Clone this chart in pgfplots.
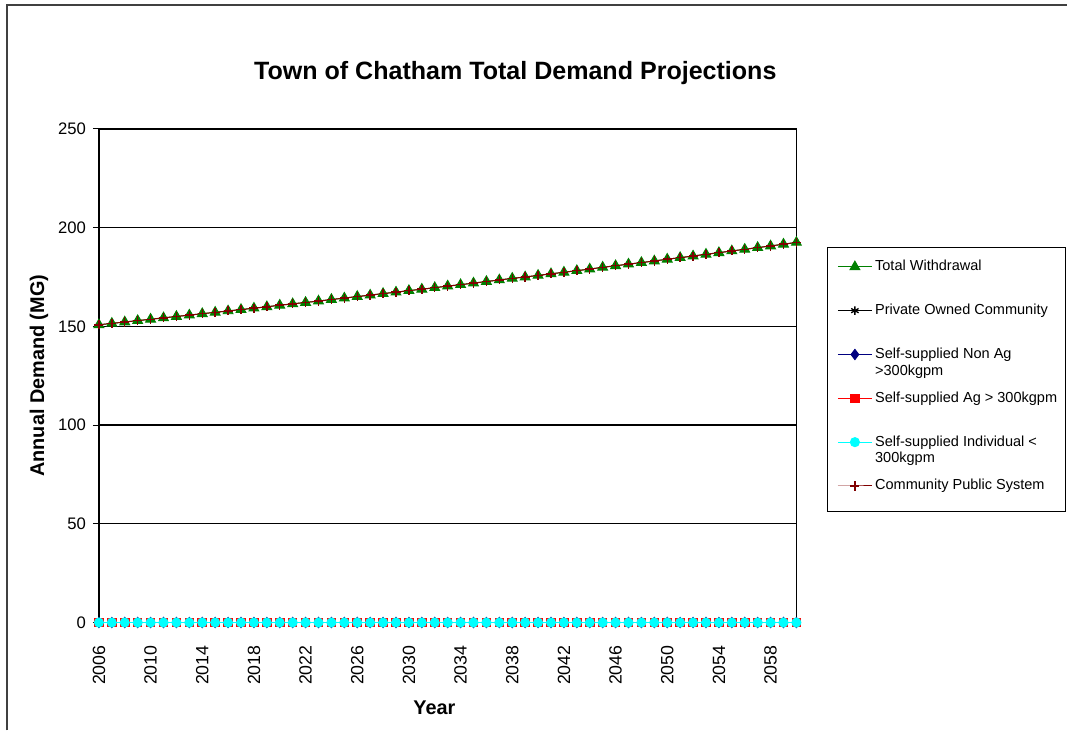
\documentclass[border=0pt]{standalone}
\usepackage{pgfplots}
\pgfplotsset{compat=1.18}
\usepackage{pgfplotstable}
\usepackage{fontspec}
\setmainfont{Liberation Sans}

\definecolor{tw}{RGB}{0,128,0}
\definecolor{cps}{RGB}{128,0,0}
\definecolor{navyc}{RGB}{0,0,128}
\definecolor{redc}{RGB}{255,0,0}
\definecolor{cyanc}{RGB}{0,255,255}

\pgfplotstableread{
year total private nonag ag indiv community
2006 150.8 0 0 0 0 150.8
2007 151.5 0 0 0 0 151.5
2008 152.2 0 0 0 0 152.2
2009 152.9 0 0 0 0 152.9
2010 153.6 0 0 0 0 153.6
2011 154.3 0 0 0 0 154.3
2012 155.0 0 0 0 0 155.0
2013 155.7 0 0 0 0 155.7
2014 156.4 0 0 0 0 156.4
2015 157.1 0 0 0 0 157.1
2016 157.8 0 0 0 0 157.8
2017 158.5 0 0 0 0 158.5
2018 159.2 0 0 0 0 159.2
2019 159.9 0 0 0 0 159.9
2020 160.7 0 0 0 0 160.7
2021 161.4 0 0 0 0 161.4
2022 162.1 0 0 0 0 162.1
2023 162.8 0 0 0 0 162.8
2024 163.6 0 0 0 0 163.6
2025 164.3 0 0 0 0 164.3
2026 165.1 0 0 0 0 165.1
2027 165.8 0 0 0 0 165.8
2028 166.6 0 0 0 0 166.6
2029 167.3 0 0 0 0 167.3
2030 168.1 0 0 0 0 168.1
2031 168.8 0 0 0 0 168.8
2032 169.6 0 0 0 0 169.6
2033 170.4 0 0 0 0 170.4
2034 171.1 0 0 0 0 171.1
2035 171.9 0 0 0 0 171.9
2036 172.7 0 0 0 0 172.7
2037 173.5 0 0 0 0 173.5
2038 174.3 0 0 0 0 174.3
2039 175.0 0 0 0 0 175.0
2040 175.8 0 0 0 0 175.8
2041 176.6 0 0 0 0 176.6
2042 177.4 0 0 0 0 177.4
2043 178.2 0 0 0 0 178.2
2044 179.0 0 0 0 0 179.0
2045 179.9 0 0 0 0 179.9
2046 180.7 0 0 0 0 180.7
2047 181.5 0 0 0 0 181.5
2048 182.3 0 0 0 0 182.3
2049 183.1 0 0 0 0 183.1
2050 184.0 0 0 0 0 184.0
2051 184.8 0 0 0 0 184.8
2052 185.6 0 0 0 0 185.6
2053 186.5 0 0 0 0 186.5
2054 187.3 0 0 0 0 187.3
2055 188.2 0 0 0 0 188.2
2056 189.0 0 0 0 0 189.0
2057 189.9 0 0 0 0 189.9
2058 190.7 0 0 0 0 190.7
2059 191.6 0 0 0 0 191.6
2060 192.5 0 0 0 0 192.5
}\data

\begin{document}
\begin{tikzpicture}
\begin{scope}[x=0.75pt,y=-0.75pt,shift={(-74.25pt,467.25pt)}]
  \useasboundingbox (0,0) rectangle (1068,731);
\end{scope}
\begin{axis}[
  scale only axis, width=523.5pt, height=370.5pt,
  xmin=2006, xmax=2060, ymin=0, ymax=250,
  xtick={2006,2010,...,2058}, ytick={0,50,...,250},
  /pgf/number format/assume math mode=true,
  /pgf/number format/1000 sep={},
  yticklabel style={font=\fontsize{12.5}{15}\selectfont, black, inner sep=0pt, xshift=-5pt},
  xticklabel style={font=\fontsize{13.3}{15}\selectfont, black, inner sep=0pt, yshift=-12.5pt, rotate=90, anchor=east},
  xtick style={draw=none},
  ytick pos=left, xtick pos=bottom,
  tick align=outside, major tick length=4.5pt,
  ytick style={black, line width=0.8pt},
  ymajorgrids, major grid style={black, line width=1pt},
  axis line style={black, line width=1pt},
  clip=false,
  title={Town of Chatham Total Demand Projections},
  title style={font=\bfseries\fontsize{18.8}{22}\selectfont, at={(axis description cs:0.597,1.098)}, anchor=center},
  ylabel={Annual Demand (MG)},
  ylabel style={font=\bfseries\fontsize{14.9}{17}\selectfont, at={(axis description cs:-0.086,0.5)}, anchor=center},
  xlabel={Year},
  xlabel style={font=\bfseries\fontsize{14.9}{17}\selectfont, at={(axis description cs:0.481,-0.172)}, anchor=center},
  legend cell align=left,
  legend style={draw=none, fill=none, inner sep=0pt, outer sep=0pt,
    at={(axis description cs:1.0587,0.7395)}, anchor=north west,
    row sep=18.9pt, column sep=0pt,
    font=\fontsize{10.9}{12.5}\selectfont,
    nodes={inner sep=2pt, text height=8pt, text depth=2pt}},
  legend image code/.code={\draw[mark repeat=2,mark phase=2] plot coordinates {(0cm,0cm) (0.45cm,0cm) (0.9cm,0cm)};},
]
\addplot[tw, line width=0.75pt, mark=triangle*, mark size=4.2pt, mark options={solid, fill=tw, draw=tw}] table[x=year,y=total] {\data};
\addlegendentry{Total Withdrawal}
\addplot[black, line width=0.75pt, mark=asterisk, mark size=3.2pt, mark options={line width=1pt}] table[x=year,y=private] {\data};
\addlegendentry{Private Owned Community}
\addplot[navyc, line width=0.75pt, mark=diamond*, mark size=3.8pt, mark options={fill=navyc}] table[x=year,y=nonag] {\data};
\addlegendentry{\begin{tabular}[t]{@{}l@{}}Self-supplied Non Ag\\>300kgpm\end{tabular}}
\addplot[redc, line width=0.75pt, mark=square*, mark size=3.2pt, mark options={fill=redc}] table[x=year,y=ag] {\data};
\addlegendentry{Self-supplied Ag > 300kgpm}
\addplot[cyanc, line width=0.75pt, mark=*, mark size=3.4pt, mark options={fill=cyanc, draw=cyanc}] table[x=year,y=indiv] {\data};
\addlegendentry{\begin{tabular}[t]{@{}l@{}}Self-supplied Individual <\\300kgpm\end{tabular}}
\addplot[cps, line width=0.75pt, mark=+, mark size=3.4pt, mark options={line width=1.1pt}] table[x=year,y=community] {\data};
\addlegendentry{Community Public System}
\end{axis}
\begin{scope}[x=0.75pt,y=-0.75pt,shift={(-74.25pt,467.25pt)}]
  \draw[line width=0.8pt, black] (828,248) rectangle (1066,512);
  \draw[line width=1.2pt, black!75] (7,731) -- (7,5) -- (1068,5);
\end{scope}
\end{tikzpicture}
\end{document}
